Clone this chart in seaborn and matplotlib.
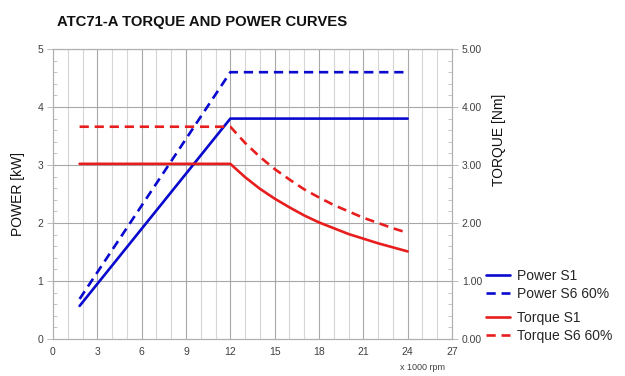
import numpy as np
import pandas as pd
import matplotlib
matplotlib.use("Agg")
import matplotlib.pyplot as plt
from matplotlib.lines import Line2D
from matplotlib.ticker import MultipleLocator
import seaborn as sns

sns.set_style("white")
plt.rcParams['font.family'] = ['Liberation Sans', 'DejaVu Sans']

# ---- data (speed in x1000 rpm) ----
power_speed = [1.8, 12, 24]
power_s1 = [0.57, 3.80, 3.80]
power_s6 = [0.69, 4.60, 4.60]

torque_speed = [1.8, 12, 13, 14, 15, 16, 17, 18, 19, 20, 21, 22, 23, 24]
torque_s1 = [3.02, 3.02, 2.79, 2.59, 2.42, 2.27, 2.13, 2.01, 1.91, 1.81, 1.73, 1.65, 1.58, 1.51]
torque_s6 = [3.66, 3.66, 3.38, 3.14, 2.93, 2.75, 2.58, 2.44, 2.31, 2.20, 2.09, 2.00, 1.91, 1.83]

x_ticks = [0, 3, 6, 9, 12, 15, 18, 21, 24, 27]
left_ticks = [0, 1, 2, 3, 4, 5]
right_tick_labels = ["0.00", "1.00", "2.00", "3.00", "4.00", "5.00"]

title = "ATC71-A TORQUE AND POWER CURVES"
series_names = ["Power S1", "Power S6 60%", "Torque S1", "Torque S6 60%"]

BLUE = "#0A0ACF"
RED = "#E81E1E"
GRID_MAJ = "#a8a8a8"
GRID_MIN = "#d6d6d6"
TICK_COL = "#404040"
DASH = (3.5, 2.2)

fig = plt.figure(figsize=(6.25, 3.76), dpi=100)
ax = fig.add_axes([53/625, 37/376, (452-53)/625, (339-49)/376])
ax2 = ax.twinx()

lw = 1.9
dfp = pd.DataFrame({"x": power_speed, "s1": power_s1, "s6": power_s6})
dft = pd.DataFrame({"x": torque_speed, "s1": torque_s1, "s6": torque_s6})
sns.lineplot(data=dfp, x="x", y="s1", ax=ax, color=BLUE, lw=lw, zorder=3)
sns.lineplot(data=dfp, x="x", y="s6", ax=ax, color=BLUE, lw=lw, zorder=3)
ax.lines[-1].set_dashes(DASH)
sns.lineplot(data=dft, x="x", y="s1", ax=ax2, color=RED, lw=lw, zorder=3)
sns.lineplot(data=dft, x="x", y="s6", ax=ax2, color=RED, lw=lw, zorder=3)
ax2.lines[-1].set_dashes(DASH)

# grid
for xv in range(1, 27):
    ax.axvline(xv, color=GRID_MAJ if xv % 3 == 0 else GRID_MIN, lw=0.8, zorder=0)
for yv in range(1, 6):
    ax.axhline(yv, color=GRID_MAJ, lw=0.8, zorder=0)

ax.set_xlim(0, 27)
ax.set_ylim(0, 5)
ax2.set_ylim(0, 5)
ax.set_xticks(x_ticks)
ax.set_xticklabels([str(t) for t in x_ticks])
ax.set_yticks(left_ticks)
ax.set_yticklabels([str(t) for t in left_ticks])
ax2.set_yticks(left_ticks)
ax2.set_yticklabels(right_tick_labels)
ax.yaxis.set_minor_locator(MultipleLocator(0.2))
ax2.yaxis.set_minor_locator(MultipleLocator(0.2))

for a in (ax, ax2):
    a.tick_params(axis="both", which="major", labelsize=7.5, colors="#bbbbbb",
                  labelcolor=TICK_COL, length=4, width=0.7, direction="out", pad=3)
    a.tick_params(axis="y", which="minor", colors="#bbbbbb", length=3, width=0.6,
                  direction="in")
    for s in a.spines.values():
        s.set_color("#b0b0b0")
        s.set_linewidth(0.8)
ax.tick_params(axis="x", which="both", length=3)

ax.set_xlabel("")
ax.set_ylabel("POWER [kW]", fontsize=10, color="#111111", labelpad=9)
ax2.set_ylabel("TORQUE [Nm]", fontsize=10, color="#111111")
ax2.yaxis.set_label_coords(1.10, 0.686)
fig.text(445/625, 1 - 368/376, "x 1000 rpm", fontsize=6.5, color=TICK_COL, ha="right", va="center")

fig.text(57/625, 1 - 22/376, title, fontsize=10.7, fontweight="bold", ha="left", va="center",
         color="#111111")

h_power = [Line2D([0], [0], color=BLUE, lw=lw), Line2D([0], [0], color=BLUE, lw=lw, dashes=DASH)]
h_torque = [Line2D([0], [0], color=RED, lw=lw), Line2D([0], [0], color=RED, lw=lw, dashes=DASH)]
leg_kw = dict(loc="upper left", frameon=False, fontsize=10, handlelength=1.7,
              handletextpad=0.5, labelspacing=0.3, borderaxespad=0, borderpad=0)
fig.legend(h_power, series_names[:2], bbox_to_anchor=(486/625, 1 - 269/376), **leg_kw)
fig.legend(h_torque, series_names[2:], bbox_to_anchor=(486/625, 1 - 311/376), **leg_kw)

fig.savefig("out.png", dpi=100)
